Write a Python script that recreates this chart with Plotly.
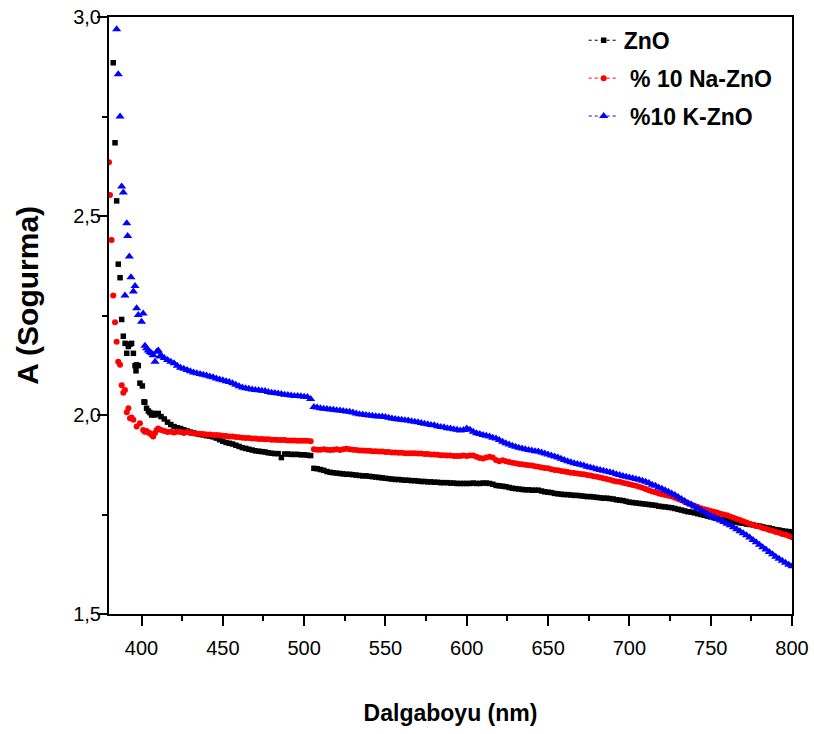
import plotly.graph_objects as go

# ---- wavelength grid (nm) shared by the three spectra above 412 nm ----
wl_grid = list(range(412, 801, 2))

# ---- ZnO ----
zno_wl_start = [382.6, 383.7, 384.7, 385.7, 386.8, 387.8, 388.8, 389.9, 390.9, 391.9,
                392.9, 393.9, 395.0, 396.0, 396.6, 397.0, 398.0, 399.0, 400.5, 401.5,
                402.0, 403.1, 404.2, 405.2, 406.2, 407.2, 408.3, 409.3, 410.3]
zno_abs_start = [2.885, 2.684, 2.538, 2.379, 2.345, 2.240, 2.198, 2.180, 2.155, 2.172,
                 2.178, 2.180, 2.155, 2.124, 2.111, 2.126, 2.124, 2.080, 2.073, 2.033,
                 2.032, 2.017, 2.010, 2.006, 2.000, 2.004, 2.000, 2.003, 2.004]
zno_abs = [
    1.996, 1.990, 1.982, 1.976, 1.971, 1.968, 1.966, 1.963, 1.960, 1.957,
    1.955, 1.953, 1.951, 1.950, 1.948, 1.947, 1.945, 1.942, 1.938, 1.934,
    1.931, 1.929, 1.927, 1.924, 1.921, 1.918, 1.916, 1.914, 1.912, 1.910,
    1.909, 1.908, 1.907, 1.905, 1.904, 1.903, 1.903, 1.893, 1.902, 1.902,
    1.901, 1.901, 1.901, 1.900, 1.900, 1.899, 1.898, 1.866, 1.865, 1.863,
    1.861, 1.858, 1.856, 1.855, 1.854, 1.853, 1.852, 1.851, 1.851, 1.850,
    1.849, 1.848, 1.847, 1.847, 1.846, 1.845, 1.844, 1.843, 1.842, 1.841,
    1.840, 1.839, 1.838, 1.838, 1.837, 1.836, 1.836, 1.835, 1.835, 1.834,
    1.833, 1.833, 1.832, 1.832, 1.831, 1.831, 1.830, 1.830, 1.830, 1.829,
    1.829, 1.828, 1.828, 1.828, 1.828, 1.828, 1.829, 1.828, 1.828, 1.829,
    1.829, 1.828, 1.826, 1.823, 1.822, 1.821, 1.820, 1.818, 1.816, 1.815,
    1.814, 1.813, 1.812, 1.812, 1.811, 1.811, 1.811, 1.809, 1.807, 1.806,
    1.805, 1.803, 1.802, 1.801, 1.800, 1.800, 1.799, 1.798, 1.798, 1.797,
    1.796, 1.795, 1.795, 1.794, 1.793, 1.792, 1.791, 1.791, 1.790, 1.789,
    1.787, 1.786, 1.785, 1.783, 1.781, 1.780, 1.779, 1.778, 1.777, 1.776,
    1.775, 1.774, 1.773, 1.771, 1.770, 1.769, 1.768, 1.767, 1.765, 1.763,
    1.761, 1.759, 1.757, 1.756, 1.754, 1.752, 1.750, 1.748, 1.746, 1.744,
    1.742, 1.740, 1.738, 1.737, 1.735, 1.734, 1.732, 1.731, 1.729, 1.728,
    1.726, 1.725, 1.724, 1.722, 1.721, 1.719, 1.717, 1.716, 1.714, 1.712,
    1.711, 1.709, 1.708, 1.707, 1.706,
]

# ---- % 10 Na-ZnO ----
na_wl_start = [380.0, 380.6, 381.6, 382.6, 383.7, 384.7, 385.7, 386.8, 387.8, 388.8,
               389.8, 390.9, 391.9, 392.9, 393.9, 395.0, 397.0, 399.0, 401.0, 402.0,
               403.1, 404.1, 405.2, 406.2, 407.2, 408.3, 409.3, 410.3]
na_abs_start = [2.635, 2.553, 2.440, 2.300, 2.233, 2.184, 2.134, 2.126, 2.075, 2.056,
                2.063, 2.007, 2.017, 1.992, 1.994, 1.988, 1.971, 1.979, 1.962, 1.958,
                1.960, 1.956, 1.954, 1.950, 1.946, 1.955, 1.962, 1.966]
na_abs = [
    1.962, 1.960, 1.957, 1.958, 1.956, 1.958, 1.957, 1.955, 1.957, 1.955,
    1.954, 1.953, 1.953, 1.952, 1.951, 1.951, 1.950, 1.950, 1.949, 1.948,
    1.947, 1.946, 1.946, 1.945, 1.944, 1.943, 1.942, 1.942, 1.941, 1.941,
    1.940, 1.940, 1.939, 1.939, 1.938, 1.938, 1.937, 1.937, 1.937, 1.936,
    1.936, 1.936, 1.935, 1.935, 1.935, 1.935, 1.934, 1.914, 1.913, 1.913,
    1.914, 1.913, 1.912, 1.913, 1.914, 1.912, 1.914, 1.915, 1.914, 1.913,
    1.912, 1.911, 1.911, 1.910, 1.910, 1.909, 1.909, 1.908, 1.908, 1.907,
    1.907, 1.906, 1.906, 1.905, 1.905, 1.904, 1.904, 1.904, 1.904, 1.903,
    1.903, 1.902, 1.902, 1.901, 1.901, 1.900, 1.899, 1.899, 1.898, 1.898,
    1.897, 1.897, 1.897, 1.898, 1.897, 1.898, 1.898, 1.895, 1.892, 1.891,
    1.893, 1.895, 1.893, 1.887, 1.884, 1.886, 1.884, 1.882, 1.880, 1.879,
    1.877, 1.876, 1.875, 1.874, 1.873, 1.871, 1.870, 1.868, 1.867, 1.866,
    1.864, 1.862, 1.861, 1.859, 1.858, 1.857, 1.855, 1.854, 1.853, 1.852,
    1.851, 1.849, 1.848, 1.846, 1.845, 1.843, 1.841, 1.839, 1.837, 1.835,
    1.833, 1.832, 1.830, 1.828, 1.826, 1.824, 1.822, 1.820, 1.817, 1.814,
    1.811, 1.808, 1.806, 1.803, 1.801, 1.799, 1.797, 1.795, 1.792, 1.789,
    1.786, 1.782, 1.778, 1.775, 1.772, 1.769, 1.766, 1.763, 1.761, 1.759,
    1.757, 1.755, 1.752, 1.750, 1.748, 1.745, 1.742, 1.739, 1.736, 1.733,
    1.730, 1.727, 1.724, 1.721, 1.719, 1.716, 1.714, 1.711, 1.709, 1.706,
    1.704, 1.701, 1.699, 1.696, 1.693,
]

# ---- %10 K-ZnO ----
k_wl_start = [384.7, 385.7, 386.8, 387.8, 388.8, 389.8, 390.9, 391.5, 392.5, 393.5,
              395.0, 396.0, 397.0, 398.0, 400.0, 401.0, 402.1, 403.1, 404.1, 405.2,
              406.2, 407.2, 408.3, 409.3, 410.3, 411.3]
k_abs_start = [2.969, 2.856, 2.750, 2.574, 2.559, 2.300, 2.482, 2.450, 2.398, 2.346,
               2.310, 2.324, 2.268, 2.251, 2.234, 2.255, 2.174, 2.168, 2.162, 2.158,
               2.155, 2.150, 2.134, 2.159, 2.162, 2.147]
k_abs = [
    2.150, 2.143, 2.138, 2.134, 2.130, 2.124, 2.119, 2.116, 2.113, 2.110,
    2.107, 2.105, 2.103, 2.101, 2.099, 2.097, 2.095, 2.092, 2.089, 2.087,
    2.085, 2.083, 2.080, 2.076, 2.072, 2.069, 2.067, 2.066, 2.064, 2.063,
    2.062, 2.061, 2.060, 2.058, 2.056, 2.055, 2.054, 2.053, 2.051, 2.050,
    2.049, 2.048, 2.048, 2.047, 2.046, 2.045, 2.040, 2.020, 2.019, 2.017,
    2.016, 2.015, 2.014, 2.013, 2.012, 2.011, 2.010, 2.009, 2.008, 2.006,
    2.004, 2.002, 2.001, 2.000, 1.999, 1.998, 1.997, 1.996, 1.996, 1.995,
    1.993, 1.991, 1.990, 1.989, 1.988, 1.987, 1.986, 1.984, 1.983, 1.982,
    1.980, 1.978, 1.977, 1.975, 1.974, 1.972, 1.970, 1.969, 1.967, 1.966,
    1.964, 1.963, 1.961, 1.962, 1.966, 1.963, 1.958, 1.954, 1.952, 1.950,
    1.948, 1.946, 1.943, 1.941, 1.937, 1.933, 1.929, 1.926, 1.923, 1.920,
    1.918, 1.916, 1.914, 1.912, 1.911, 1.909, 1.908, 1.906, 1.903, 1.901,
    1.898, 1.896, 1.893, 1.890, 1.887, 1.884, 1.881, 1.879, 1.877, 1.875,
    1.873, 1.870, 1.868, 1.866, 1.864, 1.862, 1.860, 1.858, 1.856, 1.854,
    1.851, 1.849, 1.847, 1.845, 1.843, 1.841, 1.839, 1.837, 1.835, 1.832,
    1.829, 1.825, 1.822, 1.818, 1.815, 1.811, 1.807, 1.803, 1.799, 1.794,
    1.789, 1.784, 1.779, 1.775, 1.770, 1.766, 1.761, 1.756, 1.751, 1.747,
    1.743, 1.739, 1.735, 1.731, 1.727, 1.723, 1.718, 1.713, 1.708, 1.703,
    1.698, 1.692, 1.686, 1.680, 1.674, 1.668, 1.662, 1.656, 1.650, 1.644,
    1.639, 1.634, 1.629, 1.624, 1.620,
]

# axis ranges and ticks (comma as decimal mark on the absorbance axis)
x_range = [380, 800]
y_range = [1.5, 3.0]
x_ticks = [400, 450, 500, 550, 600, 650, 700, 750, 800]
y_ticks = [1.5, 2.0, 2.5, 3.0]
y_tick_text = ["1,5", "2,0", "2,5", "3,0"]

series_names = ["ZnO", "\u00a0% 10 Na-ZnO", "\u00a0%10 K-ZnO"]
series_colors = ["#000000", "#ff0000", "#0000ff"]
series_symbols = ["square", "circle", "triangle-up"]
series_sizes = [5.5, 6, 8]

series = [
    (zno_wl_start + wl_grid, zno_abs_start + zno_abs),
    (na_wl_start + wl_grid, na_abs_start + na_abs),
    (k_wl_start + wl_grid, k_abs_start + k_abs),
]

FONT = "Liberation Sans, Arial, sans-serif"

fig = go.Figure()
for (xs, ys), name, col, sym, sz in zip(series, series_names, series_colors,
                                         series_symbols, series_sizes):
    fig.add_trace(go.Scatter(
        x=xs, y=ys, mode="markers", showlegend=False,
        marker=dict(symbol=sym, size=sz, color=col, line=dict(width=0)),
    ))

# legend entries: dotted connector with the series symbol
for i, (name, col, sym, sz) in enumerate(zip(series_names, series_colors,
                                             series_symbols, series_sizes)):
    fig.add_trace(go.Scatter(
        x=[None], y=[None], mode="lines+markers", name=name,
        legendgroup=f"g{i}",
        line=dict(color=col, width=1, dash="dot"),
        marker=dict(symbol=sym, size=sz, color=col, line=dict(width=0)),
    ))

axis_common = dict(
    showline=True, linecolor="black", linewidth=2, mirror=True,
    ticks="outside", ticklen=10, tickwidth=2, tickcolor="black",
    showgrid=False, zeroline=False, automargin=False, fixedrange=True,
    tickfont=dict(family=FONT, size=20, color="black"),
)

fig.update_layout(
    template="none",
    width=814, height=734,
    margin=dict(l=109, r=22, t=17, b=120, autoexpand=False),
    paper_bgcolor="white", plot_bgcolor="white",
    font=dict(family=FONT, color="black"),
    xaxis=dict(
        range=x_range, tickmode="array", tickvals=x_ticks, ticklabelstandoff=5,
        minor=dict(ticks="outside", ticklen=5, tickwidth=2, tickcolor="black",
                   tickmode="linear", tick0=400, dtick=25),
        title=dict(text="<b>Dalgaboyu (nm)</b>", font=dict(family=FONT, size=23),
                   standoff=47),
        **axis_common,
    ),
    yaxis=dict(
        range=y_range, tickmode="array", tickvals=y_ticks, ticktext=y_tick_text,
        ticklabelstandoff=-8,
        minor=dict(ticks="outside", ticklen=5, tickwidth=2, tickcolor="black",
                   tickmode="linear", tick0=1.5, dtick=0.25),
        **axis_common,
    ),
    annotations=[dict(
        text="<b>A (Sogurma)</b>", textangle=-90, showarrow=False,
        xref="paper", yref="paper", x=0, y=0.533, xanchor="center", yanchor="middle",
        xshift=-81, font=dict(family=FONT, size=30, color="black"),
    )],
    legend=dict(
        x=0.695, y=0.997, xanchor="left", yanchor="top",
        bgcolor="rgba(0,0,0,0)", borderwidth=0,
        font=dict(family=FONT, size=23, color="black", weight="bold"),
        tracegroupgap=5,
    ),
)

fig.write_html("out.html")
